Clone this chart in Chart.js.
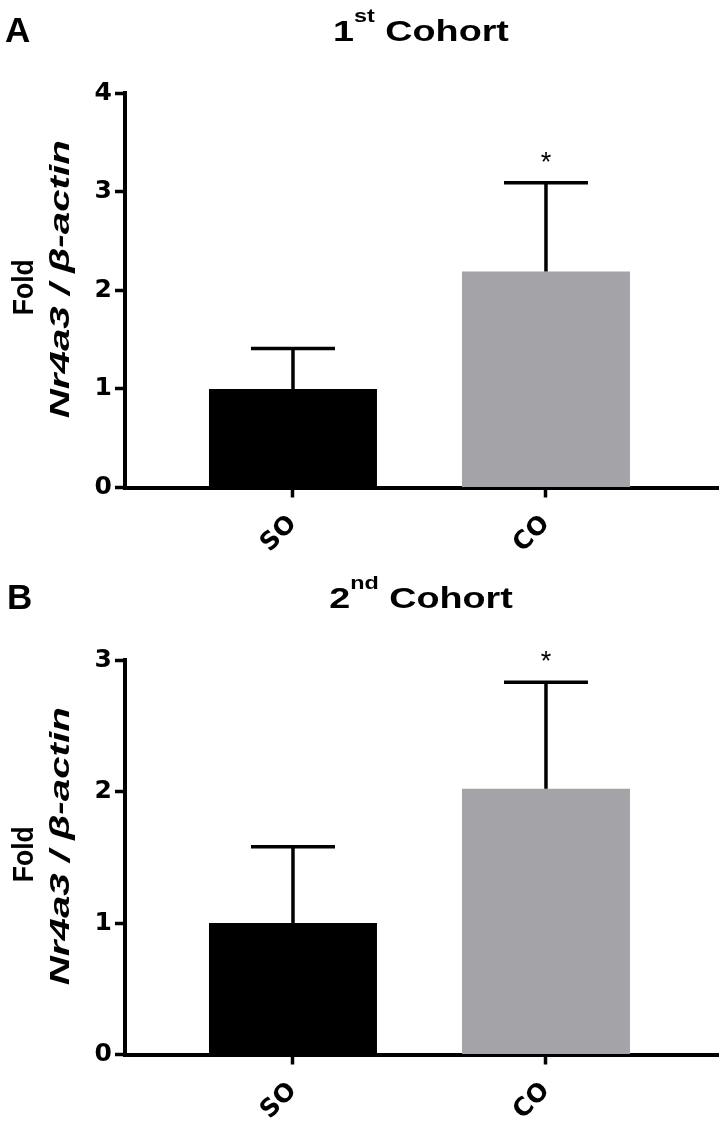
<!DOCTYPE html>
<html>
<head>
<meta charset="utf-8">
<script src="https://cdn.jsdelivr.net/npm/chart.js@4.4.1/dist/chart.umd.min.js"></script>
<style>
  html, body { margin:0; padding:0; background:#fff; }
  #wrap { position:relative; width:725px; height:1128px; background:#fff; overflow:hidden; }
  canvas { position:absolute; left:0; }
  .lbl { position:absolute; font: bold 35px "Liberation Sans", Arial, sans-serif; line-height:35px; color:#000; }
  .ttl { position:absolute; left:421px; font: bold 29px "Liberation Sans", Arial, sans-serif; line-height:29px; color:#000;
         transform: translateX(-50%) scaleX(1.3); white-space:nowrap; }
  .ttl span { font-size:18px; position:relative; top:-19px; }
</style>
</head>
<body>
<div id="wrap">
  <canvas id="c1" width="725" height="567" style="top:0px"></canvas>
  <canvas id="c2" width="725" height="561" style="top:567px"></canvas>
  <div class="lbl" style="left:5px;top:12px">A</div>
  <div class="ttl" style="top:16.5px">1<span>st</span> Cohort</div>
  <div class="lbl" style="left:7px;top:579px">B</div>
  <div class="ttl" style="top:583.5px">2<span>nd</span> Cohort</div>
</div>
<script>
// ---- data ----
const categories = ['SO', 'CO'];
const barColors = ['#000000', '#a4a3a7'];
const cohort1Means = [1.00, 2.19];
const cohort1Sem = [0.41, 0.90];
const cohort1Ticks = [0, 1, 2, 3, 4];
const cohort2Means = [1.00, 2.02];
const cohort2Sem = [0.58, 0.81];
const cohort2Ticks = [0, 1, 2, 3];
const significance = ['', '*'];
const yTitleLine1 = 'Fold';
const yTitleLine2 = 'Nr4a3 / \u03B2-actin';

const errorPlugin = {
  id: 'errs',
  afterDatasetsDraw(chart, args, opts) {
    const ctx = chart.ctx, xs = chart.scales.x, ys = chart.scales.y;
    const meta = chart.getDatasetMeta(0);
    opts.means.forEach((m, i) => {
      const bar = meta.data[i];
      const x = xs.getPixelForValue(i);
      const yTop = ys.getPixelForValue(m);
      const yErr = ys.getPixelForValue(m + opts.sem[i]);
      const half = bar.width / 4;
      ctx.save();
      ctx.strokeStyle = '#000';
      ctx.lineWidth = 3.5;
      ctx.beginPath();
      ctx.moveTo(x, yTop);
      ctx.lineTo(x, yErr);
      ctx.moveTo(x - half, yErr);
      ctx.lineTo(x + half, yErr);
      ctx.stroke();
      if (opts.marks[i]) {
        ctx.fillStyle = '#000';
        ctx.font = '27px "Liberation Sans", Arial, sans-serif';
        ctx.textAlign = 'center';
        ctx.textBaseline = 'alphabetic';
        ctx.fillText(opts.marks[i], x, yErr - 12);
      }
      ctx.restore();
    });
  }
};

const yTitlePlugin = {
  id: 'ytitle',
  afterDraw(chart, args, opts) {
    const ctx = chart.ctx, ca = chart.chartArea;
    const cy = (ca.top + ca.bottom) / 2;
    ctx.save();
    ctx.fillStyle = '#000';
    ctx.textAlign = 'center';
    ctx.textBaseline = 'alphabetic';
    ctx.save();
    ctx.translate(33, cy - 3);
    ctx.rotate(-Math.PI / 2);
    ctx.font = 'bold 29px "Liberation Sans", Arial, sans-serif';
    const w1 = ctx.measureText(yTitleLine1).width;
    ctx.scale(56 / w1, 1);
    ctx.fillText(yTitleLine1, 0, 0);
    ctx.restore();
    ctx.save();
    ctx.translate(69, cy - 11);
    ctx.rotate(-Math.PI / 2);
    ctx.font = 'italic bold 28px "Liberation Sans", Arial, sans-serif';
    const w = ctx.measureText(yTitleLine2).width;
    ctx.scale(278 / w, 1);
    ctx.fillText(yTitleLine2, 0, 0);
    ctx.restore();
    ctx.restore();
  }
};

function makeChart(id, means, sem, ticks, canvasH) {
  const tickFont = { family: '"DejaVu Sans", sans-serif', weight: 'bold', size: 25 };
  return new Chart(document.getElementById(id), {
    type: 'bar',
    data: {
      datasets: [{
        data: means.map((v, i) => ({ x: i, y: v })),
        backgroundColor: barColors,
        borderWidth: 0,
        barPercentage: 0.664,
        categoryPercentage: 1.0
      }]
    },
    options: {
      responsive: false,
      animation: false,
      devicePixelRatio: 1,
      layout: { padding: { top: 93, right: 7, left: 0, bottom: 0 } },
      plugins: {
        legend: { display: false },
        tooltip: { enabled: false },
        errs: { means: means, sem: sem, marks: significance }
      },
      scales: {
        x: {
          type: 'linear',
          offset: false,
          min: -0.664,
          max: 1.68,
          afterBuildTicks: (s) => { s.ticks = categories.map((_, i) => ({ value: i })); },
          afterFit: (s) => { s.height = canvasH - 487.5; },
          ticks: {
            callback: (v) => categories[v],
            color: '#000',
            font: tickFont,
            maxRotation: 45,
            minRotation: 45,
            padding: 12,
            autoSkip: false
          },
          grid: { offset: false, drawOnChartArea: false, drawTicks: true, tickLength: 10, tickWidth: 3.5, tickColor: '#000', color: '#000' },
          border: { display: true, color: '#000', width: 4 }
        },
        y: {
          min: ticks[0],
          max: ticks[ticks.length - 1],
          afterBuildTicks: (s) => { s.ticks = ticks.map(v => ({ value: v })); },
          afterFit: (s) => { s.width = 125; },
          ticks: { color: '#000', font: tickFont, padding: 3 },
          grid: { drawOnChartArea: false, drawTicks: true, tickLength: 10, tickWidth: 3.5, tickColor: '#000', color: '#000' },
          border: { display: true, color: '#000', width: 4 }
        }
      }
    },
    plugins: [errorPlugin, yTitlePlugin]
  });
}

makeChart('c1', cohort1Means, cohort1Sem, cohort1Ticks, 567);
makeChart('c2', cohort2Means, cohort2Sem, cohort2Ticks, 561);
</script>
</body>
</html>
